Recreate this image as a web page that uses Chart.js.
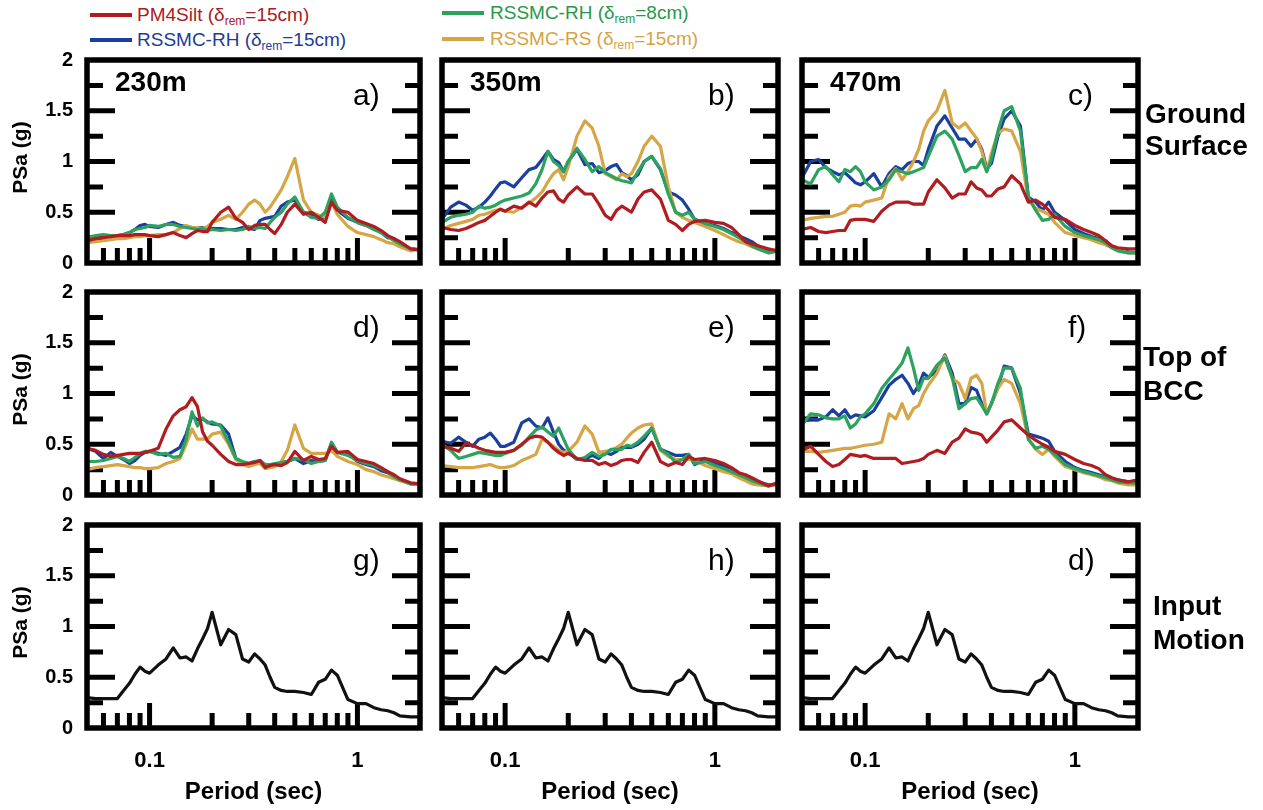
<!DOCTYPE html>
<html>
<head>
<meta charset="utf-8">
<script src="https://cdn.jsdelivr.net/npm/chart.js@4.4.0/dist/chart.umd.min.js"></script>
<style>
  body { margin: 0; background: #fff; width: 1263px; height: 810px; overflow: hidden; position: relative;
         font-family: "Liberation Sans", Arial, sans-serif; }
  canvas { position: absolute; }
  .leg-line { position: absolute; width: 42px; height: 4px; }
  .leg-text { position: absolute; font-size: 19px; line-height: 22px; white-space: nowrap; }
  .leg-text sub { font-size: 12px; vertical-align: -4px; line-height: 0; }
</style>
</head>
<body>
<div class="leg-line" style="left:90px;top:13px;background:#b01c1f"></div>
<div class="leg-text" style="left:137px;top:4px;color:#a8201f">PM4Silt (&delta;<sub>rem</sub>=15cm)</div>
<div class="leg-line" style="left:90px;top:38px;background:#1b3f9e"></div>
<div class="leg-text" style="left:137px;top:29px;color:#1e3c94">RSSMC-RH (&delta;<sub>rem</sub>=15cm)</div>
<div class="leg-line" style="left:442px;top:11px;background:#2ca25f"></div>
<div class="leg-text" style="left:490px;top:2px;color:#27984a">RSSMC-RH (&delta;<sub>rem</sub>=8cm)</div>
<div class="leg-line" style="left:442px;top:37px;background:#d6a545"></div>
<div class="leg-text" style="left:490px;top:28px;color:#d4a345">RSSMC-RS (&delta;<sub>rem</sub>=15cm)</div>

<script>
// periods (sec) shared by every spectrum
const periods = [0.05,0.055,0.06,0.065,0.07,0.075,0.08,0.085,0.09,0.095,
  0.1,0.11,0.12,0.13,0.14,0.15,0.16,0.17,0.18,0.19,
  0.2,0.22,0.24,0.26,0.28,0.3,0.32,0.34,0.36,0.38,
  0.4,0.43,0.46,0.5,0.55,0.6,0.65,0.7,0.75,0.8,
  0.9,1.0,1.1,1.2,1.3,1.4,1.5,1.6,1.8,2.0];

// ground surface, 230m
const gs230_pm4silt = [0.22,0.24,0.25,0.26,0.27,0.27,0.27,0.28,0.28,0.28,
  0.27,0.26,0.28,0.30,0.27,0.25,0.29,0.32,0.31,0.31,
  0.40,0.50,0.55,0.44,0.40,0.33,0.37,0.38,0.38,0.33,
  0.29,0.38,0.50,0.58,0.48,0.50,0.45,0.40,0.60,0.52,
  0.50,0.42,0.39,0.36,0.32,0.27,0.24,0.21,0.14,0.13];
const gs230_rh15 = [0.24,0.26,0.26,0.27,0.27,0.28,0.30,0.33,0.37,0.38,
  0.36,0.35,0.38,0.40,0.37,0.36,0.35,0.35,0.35,0.33,
  0.34,0.34,0.33,0.33,0.35,0.34,0.33,0.42,0.44,0.45,
  0.46,0.56,0.60,0.62,0.50,0.48,0.43,0.45,0.66,0.52,
  0.44,0.40,0.37,0.34,0.30,0.25,0.24,0.20,0.14,0.13];
const gs230_rh8 = [0.25,0.27,0.28,0.27,0.27,0.28,0.30,0.33,0.34,0.35,
  0.37,0.36,0.38,0.38,0.36,0.35,0.34,0.33,0.34,0.32,
  0.33,0.32,0.33,0.32,0.33,0.36,0.34,0.35,0.34,0.40,
  0.45,0.50,0.58,0.65,0.50,0.45,0.44,0.50,0.68,0.55,
  0.45,0.40,0.37,0.33,0.30,0.26,0.22,0.19,0.14,0.13];
const gs230_rs15 = [0.20,0.21,0.22,0.23,0.24,0.24,0.25,0.26,0.26,0.27,
  0.27,0.28,0.28,0.30,0.34,0.37,0.35,0.35,0.34,0.36,
  0.40,0.43,0.47,0.43,0.50,0.58,0.62,0.58,0.50,0.55,
  0.62,0.72,0.85,1.03,0.62,0.50,0.47,0.45,0.60,0.48,
  0.36,0.30,0.28,0.26,0.23,0.20,0.19,0.16,0.12,0.14];

// ground surface, 350m
const gs350_pm4silt = [0.35,0.33,0.32,0.34,0.37,0.40,0.42,0.46,0.50,0.53,
  0.51,0.56,0.54,0.60,0.56,0.64,0.70,0.71,0.63,0.60,
  0.67,0.75,0.68,0.68,0.58,0.47,0.43,0.52,0.56,0.53,
  0.50,0.63,0.70,0.72,0.63,0.42,0.38,0.32,0.38,0.41,
  0.42,0.40,0.39,0.35,0.28,0.21,0.19,0.17,0.14,0.12];
const gs350_rh15 = [0.43,0.55,0.60,0.57,0.52,0.55,0.60,0.66,0.73,0.79,
  0.80,0.75,0.84,0.92,0.94,1.02,1.10,1.02,0.99,0.90,
  1.00,1.12,0.97,0.98,0.89,0.91,0.95,0.97,0.89,0.86,
  0.82,0.87,1.00,1.05,0.92,0.70,0.67,0.62,0.53,0.43,
  0.39,0.37,0.34,0.30,0.27,0.24,0.21,0.17,0.12,0.12];
const gs350_rh8 = [0.40,0.45,0.47,0.48,0.50,0.56,0.54,0.55,0.57,0.60,
  0.62,0.64,0.66,0.69,0.78,0.92,1.10,1.00,0.96,0.90,
  1.00,1.13,1.02,0.90,0.95,0.89,0.86,0.83,0.81,0.80,
  0.79,0.90,1.00,1.05,0.93,0.68,0.50,0.47,0.50,0.43,
  0.39,0.36,0.33,0.29,0.25,0.21,0.17,0.14,0.10,0.12];
const gs350_rs15 = [0.33,0.37,0.39,0.41,0.43,0.47,0.48,0.50,0.52,0.53,
  0.51,0.50,0.55,0.59,0.64,0.70,0.80,0.88,0.92,0.82,
  0.95,1.25,1.40,1.33,1.15,0.88,0.85,0.82,0.88,0.85,
  0.88,1.00,1.15,1.25,1.15,0.75,0.50,0.45,0.42,0.40,
  0.36,0.32,0.28,0.24,0.21,0.19,0.16,0.14,0.10,0.12];

// ground surface, 470m
const gs470_pm4silt = [0.33,0.35,0.31,0.30,0.31,0.32,0.32,0.42,0.43,0.43,
  0.43,0.41,0.51,0.57,0.60,0.60,0.60,0.58,0.58,0.58,
  0.70,0.82,0.74,0.64,0.68,0.68,0.80,0.74,0.72,0.66,
  0.66,0.73,0.75,0.86,0.78,0.60,0.62,0.58,0.52,0.45,
  0.43,0.37,0.33,0.30,0.27,0.22,0.17,0.15,0.14,0.14];
const gs470_rh15 = [0.84,1.00,1.02,0.94,0.90,0.87,0.89,0.84,0.79,0.77,
  0.80,0.88,0.75,0.88,0.95,0.92,0.98,1.00,1.00,0.96,
  1.12,1.35,1.45,1.33,1.22,1.22,1.15,1.22,1.12,0.93,
  0.98,1.25,1.42,1.50,1.35,0.65,0.60,0.52,0.60,0.50,
  0.42,0.33,0.29,0.26,0.24,0.22,0.16,0.13,0.11,0.10];
const gs470_rh8 = [0.82,0.78,0.92,0.95,0.87,0.80,0.92,0.90,0.95,0.90,
  0.80,0.72,0.75,0.82,0.92,0.90,0.88,0.90,0.92,0.94,
  1.05,1.25,1.30,1.22,1.06,0.90,0.94,0.94,1.02,0.90,
  1.02,1.30,1.50,1.54,1.30,0.65,0.52,0.42,0.43,0.48,
  0.36,0.30,0.27,0.25,0.23,0.20,0.15,0.12,0.10,0.10];
const gs470_rs15 = [0.42,0.44,0.45,0.46,0.46,0.48,0.50,0.56,0.57,0.56,
  0.60,0.62,0.64,0.85,0.93,0.82,0.90,1.00,1.12,1.30,
  1.40,1.50,1.70,1.38,1.33,1.38,1.30,1.23,1.10,0.90,
  1.08,1.28,1.32,1.30,1.10,0.62,0.54,0.51,0.48,0.40,
  0.30,0.27,0.25,0.23,0.20,0.18,0.15,0.13,0.10,0.10];

// top of BCC, 230m
const bcc230_pm4silt = [0.46,0.44,0.40,0.38,0.39,0.40,0.41,0.41,0.41,0.42,
  0.43,0.46,0.65,0.78,0.84,0.87,0.96,0.87,0.62,0.53,
  0.49,0.40,0.33,0.30,0.30,0.31,0.32,0.34,0.27,0.29,
  0.30,0.29,0.32,0.43,0.34,0.38,0.35,0.36,0.48,0.42,
  0.43,0.35,0.33,0.31,0.27,0.23,0.20,0.16,0.12,0.11];
const bcc230_rh15 = [0.46,0.43,0.36,0.42,0.38,0.35,0.31,0.34,0.39,0.42,
  0.43,0.41,0.39,0.43,0.47,0.60,0.78,0.74,0.75,0.72,
  0.70,0.69,0.60,0.36,0.32,0.31,0.33,0.32,0.28,0.29,
  0.30,0.32,0.33,0.36,0.31,0.34,0.33,0.34,0.51,0.42,
  0.41,0.33,0.30,0.28,0.24,0.22,0.18,0.15,0.11,0.11];
const bcc230_rh8 = [0.33,0.33,0.34,0.36,0.38,0.36,0.33,0.37,0.41,0.43,
  0.43,0.40,0.41,0.37,0.38,0.55,0.82,0.68,0.76,0.71,
  0.72,0.68,0.52,0.36,0.33,0.31,0.33,0.34,0.30,0.30,
  0.31,0.32,0.33,0.36,0.35,0.31,0.33,0.34,0.52,0.42,
  0.39,0.34,0.31,0.29,0.26,0.23,0.18,0.15,0.11,0.11];
const bcc230_rs15 = [0.25,0.27,0.28,0.29,0.30,0.29,0.28,0.27,0.27,0.26,
  0.26,0.27,0.31,0.33,0.36,0.50,0.65,0.55,0.55,0.55,
  0.60,0.62,0.50,0.35,0.30,0.28,0.30,0.31,0.26,0.27,
  0.28,0.33,0.44,0.69,0.46,0.41,0.41,0.41,0.44,0.38,
  0.33,0.30,0.25,0.23,0.20,0.18,0.16,0.14,0.11,0.11];

// top of BCC, 350m
const bcc350_pm4silt = [0.48,0.46,0.43,0.51,0.49,0.46,0.44,0.43,0.42,0.42,
  0.42,0.44,0.50,0.56,0.58,0.57,0.52,0.46,0.42,0.39,
  0.41,0.36,0.34,0.34,0.30,0.32,0.29,0.31,0.34,0.35,
  0.35,0.32,0.42,0.52,0.33,0.29,0.32,0.30,0.38,0.35,
  0.36,0.34,0.31,0.27,0.22,0.20,0.17,0.14,0.09,0.12];
const bcc350_rh15 = [0.53,0.51,0.57,0.52,0.48,0.55,0.57,0.61,0.55,0.48,
  0.48,0.52,0.71,0.75,0.68,0.66,0.76,0.62,0.50,0.44,
  0.42,0.35,0.35,0.39,0.36,0.42,0.40,0.43,0.47,0.47,
  0.47,0.50,0.55,0.66,0.45,0.42,0.39,0.39,0.40,0.30,
  0.35,0.31,0.29,0.26,0.21,0.18,0.16,0.13,0.10,0.10];
const bcc350_rh8 = [0.50,0.44,0.36,0.38,0.40,0.42,0.41,0.40,0.39,0.39,
  0.41,0.44,0.49,0.57,0.64,0.67,0.62,0.58,0.66,0.55,
  0.45,0.35,0.37,0.42,0.38,0.40,0.45,0.45,0.45,0.49,
  0.48,0.52,0.58,0.66,0.45,0.40,0.32,0.35,0.40,0.31,
  0.33,0.29,0.26,0.23,0.20,0.17,0.14,0.12,0.09,0.12];
const bcc350_rs15 = [0.29,0.28,0.27,0.27,0.27,0.28,0.29,0.30,0.28,0.27,
  0.27,0.29,0.34,0.37,0.40,0.55,0.52,0.48,0.44,0.42,
  0.43,0.52,0.68,0.60,0.42,0.43,0.44,0.47,0.50,0.56,
  0.61,0.66,0.69,0.70,0.44,0.38,0.35,0.35,0.35,0.34,
  0.29,0.26,0.23,0.21,0.17,0.14,0.11,0.10,0.09,0.11];

// top of BCC, 470m
const bcc470_pm4silt = [0.44,0.48,0.40,0.33,0.28,0.30,0.35,0.40,0.39,0.38,
  0.39,0.36,0.36,0.36,0.36,0.31,0.32,0.33,0.34,0.36,
  0.40,0.44,0.41,0.52,0.56,0.65,0.62,0.61,0.59,0.52,
  0.57,0.64,0.72,0.74,0.66,0.59,0.54,0.50,0.47,0.43,
  0.40,0.35,0.31,0.29,0.26,0.20,0.17,0.15,0.13,0.15];
const bcc470_rh15 = [0.72,0.75,0.74,0.77,0.84,0.78,0.84,0.76,0.79,0.78,
  0.77,0.83,0.96,1.08,1.14,1.18,1.10,1.00,1.08,1.20,
  1.16,1.22,1.38,1.20,0.90,0.90,1.06,1.03,0.90,0.80,
  0.90,1.06,1.27,1.25,1.00,0.60,0.58,0.56,0.53,0.43,
  0.33,0.27,0.24,0.22,0.20,0.18,0.16,0.15,0.13,0.12];
const bcc470_rh8 = [0.69,0.80,0.79,0.76,0.75,0.75,0.78,0.66,0.70,0.77,
  0.80,0.90,1.05,1.14,1.22,1.30,1.45,1.25,1.03,1.15,
  1.15,1.28,1.35,1.16,0.85,0.90,0.95,0.96,0.88,0.80,
  0.90,1.10,1.25,1.25,1.05,0.55,0.46,0.48,0.45,0.40,
  0.30,0.26,0.23,0.21,0.19,0.17,0.15,0.13,0.12,0.12];
const bcc470_rs15 = [0.43,0.43,0.42,0.43,0.44,0.45,0.46,0.46,0.47,0.48,
  0.49,0.50,0.52,0.80,0.75,0.90,0.75,0.85,0.88,1.00,
  1.08,1.20,1.37,1.15,1.10,0.95,1.15,1.18,1.10,0.80,
  0.90,1.05,1.14,1.10,0.90,0.55,0.45,0.40,0.45,0.38,
  0.28,0.25,0.22,0.20,0.18,0.15,0.14,0.12,0.10,0.10];

// input motion (same in all three columns)
const inputMotion = [0.30,0.29,0.29,0.29,0.29,0.37,0.44,0.53,0.60,0.56,
  0.54,0.62,0.68,0.79,0.69,0.70,0.66,0.78,0.88,0.98,
  1.14,0.82,0.97,0.92,0.68,0.65,0.73,0.68,0.62,0.50,
  0.40,0.37,0.36,0.36,0.35,0.33,0.45,0.48,0.57,0.52,
  0.28,0.24,0.24,0.20,0.18,0.17,0.15,0.12,0.11,0.11];

const seriesNames = ['PM4Silt (δrem=15cm)', 'RSSMC-RH (δrem=15cm)', 'RSSMC-RH (δrem=8cm)', 'RSSMC-RS (δrem=15cm)'];
const seriesColors = ['#b01c1f', '#1b3f9e', '#2ca25f', '#d6a545'];
const seriesOrder = [1, 4, 2, 3];

const xMajorTicks = [0.1, 1];
const xMinorTicks = [0.06, 0.07, 0.08, 0.09, 0.2, 0.3, 0.4, 0.5, 0.6, 0.7, 0.8, 0.9];
const yMajorTicks = [0.5, 1, 1.5];
const yMinorTicks = [0.25, 0.75, 1.25, 1.75];
const yTickLabels = [0, 0.5, 1, 1.5, 2];
const xTickLabels = [0.1, 1];

const siteLabels = ['230m', '350m', '470m'];
const rowLabels = [['Ground', 'Surface'], ['Top of', 'BCC'], ['Input', 'Motion']];

const panels = [
  { row: 0, col: 0, letter: 'a)', series: [gs230_pm4silt, gs230_rh15, gs230_rh8, gs230_rs15] },
  { row: 0, col: 1, letter: 'b)', series: [gs350_pm4silt, gs350_rh15, gs350_rh8, gs350_rs15] },
  { row: 0, col: 2, letter: 'c)', series: [gs470_pm4silt, gs470_rh15, gs470_rh8, gs470_rs15] },
  { row: 1, col: 0, letter: 'd)', series: [bcc230_pm4silt, bcc230_rh15, bcc230_rh8, bcc230_rs15] },
  { row: 1, col: 1, letter: 'e)', series: [bcc350_pm4silt, bcc350_rh15, bcc350_rh8, bcc350_rs15] },
  { row: 1, col: 2, letter: 'f)', series: [bcc470_pm4silt, bcc470_rh15, bcc470_rh8, bcc470_rs15] },
  { row: 2, col: 0, letter: 'g)', series: [inputMotion] },
  { row: 2, col: 1, letter: 'h)', series: [inputMotion] },
  { row: 2, col: 2, letter: 'd)', series: [inputMotion] }
];

// page layout of the plot frames
const colLeft = [87, 442, 802], colRight = [420, 778, 1138];
const rowTop = [60, 292, 525], rowBottom = [263, 495, 728];
const PAD = { left: 86, top: 12, right: 125, bottom: 90 };
const rowLabelDx = [7, 5, 15];
const rowLabelDy = [[55, 87], [66, 100], [82, 116]];
const FONT = '"Liberation Sans", Arial, sans-serif';

const panelFrame = {
  id: 'panelFrame',
  beforeDatasetsDraw(chart) {
    const { ctx, chartArea: a, scales: { x, y } } = chart;
    ctx.save();
    ctx.strokeStyle = '#000';
    ctx.lineWidth = 5;
    ctx.beginPath();
    xMinorTicks.forEach(t => { const px = x.getPixelForValue(t); ctx.moveTo(px, a.bottom); ctx.lineTo(px, a.bottom - 15); });
    xMajorTicks.forEach(t => { const px = x.getPixelForValue(t); ctx.moveTo(px, a.bottom); ctx.lineTo(px, a.bottom - 25); });
    yMinorTicks.forEach(v => {
      const py = y.getPixelForValue(v);
      ctx.moveTo(a.left, py); ctx.lineTo(a.left + 16, py);
      ctx.moveTo(a.right, py); ctx.lineTo(a.right - 15, py);
    });
    yMajorTicks.forEach(v => {
      const py = y.getPixelForValue(v);
      ctx.moveTo(a.left, py); ctx.lineTo(a.left + 28, py);
      ctx.moveTo(a.right, py); ctx.lineTo(a.right - 28, py);
    });
    ctx.stroke();
    ctx.restore();
  },
  afterDatasetsDraw(chart, args, o) {
    const { ctx, chartArea: a, scales: { x, y } } = chart;
    ctx.save();
    ctx.strokeStyle = '#000';
    ctx.lineWidth = 5.5;
    ctx.strokeRect(a.left, a.top, a.right - a.left, a.bottom - a.top);
    ctx.fillStyle = '#000';
    ctx.textBaseline = 'middle';

    if (o.site) {
      ctx.font = 'bold 28px ' + FONT;
      ctx.textAlign = 'left';
      ctx.fillText(o.site, a.left + 28, a.top + 23);
    }
    ctx.font = '30px ' + FONT;
    ctx.textAlign = 'left';
    ctx.fillText(o.letter, a.left + 266, a.top + 37);

    if (o.col === 0) {
      ctx.font = 'bold 20px ' + FONT;
      ctx.textAlign = 'right';
      yTickLabels.forEach(v => ctx.fillText(String(v), a.left - 14, y.getPixelForValue(v)));
      ctx.save();
      ctx.translate(a.left - 66, (a.top + a.bottom) / 2 - 4);
      ctx.rotate(-Math.PI / 2);
      ctx.textAlign = 'center';
      ctx.font = 'bold 21px ' + FONT;
      ctx.fillText('PSa (g)', 0, 0);
      ctx.restore();
    }
    if (o.row === 2) {
      ctx.font = 'bold 22px ' + FONT;
      ctx.textAlign = 'center';
      xTickLabels.forEach(t => ctx.fillText(String(t), x.getPixelForValue(t), a.bottom + 33));
      ctx.font = 'bold 24px ' + FONT;
      ctx.fillText('Period (sec)', (a.left + a.right) / 2, a.bottom + 64);
    }
    if (o.col === 2) {
      ctx.font = 'bold 28px ' + FONT;
      ctx.textAlign = 'left';
      rowLabels[o.row].forEach((s, i) => ctx.fillText(s, a.right + rowLabelDx[o.row], a.top + rowLabelDy[o.row][i]));
    }
    ctx.restore();
  }
};

panels.forEach(p => {
  const cv = document.createElement('canvas');
  const w = colRight[p.col] - colLeft[p.col] + PAD.left + PAD.right;
  const h = rowBottom[p.row] - rowTop[p.row] + PAD.top + PAD.bottom;
  cv.width = w; cv.height = h;
  cv.style.left = (colLeft[p.col] - PAD.left) + 'px';
  cv.style.top = (rowTop[p.row] - PAD.top) + 'px';
  document.body.appendChild(cv);

  const isInput = p.series.length === 1;
  const datasets = p.series.map((vals, i) => ({
    label: isInput ? 'Input motion' : seriesNames[i],
    data: periods.map((t, k) => ({ x: t, y: vals[k] })),
    borderColor: isInput ? '#111' : seriesColors[i],
    borderWidth: 3.2,
    borderJoinStyle: 'round',
    borderCapStyle: 'round',
    pointRadius: 0,
    tension: 0,
    fill: false,
    order: isInput ? 0 : seriesOrder[i]
  }));

  new Chart(cv, {
    type: 'line',
    data: { datasets },
    plugins: [panelFrame],
    options: {
      responsive: false,
      animation: false,
      devicePixelRatio: 1,
      layout: { padding: PAD },
      plugins: {
        legend: { display: false },
        tooltip: { enabled: false },
        panelFrame: { row: p.row, col: p.col, letter: p.letter, site: p.row === 0 ? siteLabels[p.col] : null }
      },
      scales: {
        x: { type: 'logarithmic', min: 0.05, max: 2, display: false },
        y: { type: 'linear', min: 0, max: 2, display: false }
      }
    }
  });
});
</script>
</body>
</html>
